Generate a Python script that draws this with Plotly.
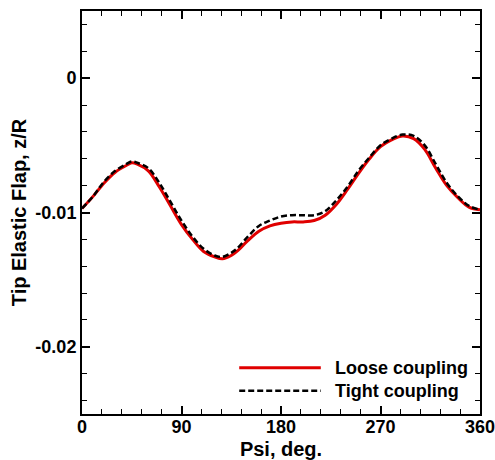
import plotly.graph_objects as go

psi = [0, 10, 20, 30, 40, 45, 50, 60, 70, 80, 90, 100, 110, 120, 127, 135, 140, 150, 160,
       170, 180, 190, 200, 210, 220, 230, 240, 250, 260, 270, 280, 290, 300, 310, 320,
       330, 340, 350, 360]
loose = [-0.0097, -0.0088, -0.0078, -0.0070, -0.0065, -0.0063, -0.0064, -0.0069, -0.0081,
         -0.0095, -0.0109, -0.0120, -0.0129, -0.0133, -0.01345, -0.0132, -0.0129, -0.0121,
         -0.0114, -0.0110, -0.0108, -0.0107, -0.0107, -0.0106, -0.0102, -0.0094, -0.0083,
         -0.0071, -0.0060, -0.0051, -0.0046, -0.0043, -0.0045, -0.0053, -0.0067, -0.0080,
         -0.0089, -0.0096, -0.0098]
tight = [-0.0097, -0.0088, -0.0077, -0.0069, -0.0064, -0.0062, -0.0063, -0.0067, -0.0078,
         -0.0092, -0.0106, -0.0118, -0.0127, -0.0132, -0.0133, -0.0130, -0.0127, -0.0118,
         -0.0110, -0.0106, -0.0103, -0.0102, -0.0102, -0.0102, -0.0099, -0.0091, -0.0081,
         -0.0069, -0.0059, -0.0050, -0.0045, -0.0042, -0.0043, -0.0050, -0.0064, -0.0078,
         -0.0088, -0.0095, -0.0098]
series_names = ["Loose coupling", "Tight coupling"]
x_ticks = [0, 90, 180, 270, 360]
y_ticks = [0, -0.01, -0.02]
y_tick_text = ["0", "-0.01", "-0.02"]

FONT = "Liberation Sans, Arial, sans-serif"

fig = go.Figure()
fig.add_trace(go.Scatter(x=psi, y=loose, mode="lines", name=series_names[0],
                         line=dict(color="#e00000", width=3, shape="spline", smoothing=1.0)))
fig.add_trace(go.Scatter(x=psi, y=tight, mode="lines", name=series_names[1],
                         line=dict(color="black", width=2.5, dash="6px,3px", shape="spline", smoothing=1.0)))

axis_common = dict(showline=True, linewidth=2, linecolor="black", mirror="allticks",
                   ticks="inside", ticklen=8, tickwidth=1.5, tickcolor="black",
                   showgrid=False, zeroline=False, ticklabeloverflow="allow",
                   tickfont=dict(family=FONT, size=18, color="black", weight="bold"))

fig.update_xaxes(range=[0, 360], tickvals=x_ticks, automargin=False, ticklabelstandoff=-5,
                 minor=dict(ticks="inside", ticklen=5, tickwidth=1, tickcolor="black", dtick=18, tick0=0),
                 title=dict(text="Psi, deg.",
                            font=dict(family=FONT, size=20, color="black", weight="bold")),
                 **axis_common)
fig.update_yaxes(range=[-0.025, 0.005], tickvals=y_ticks, ticktext=y_tick_text, automargin="left",
                 minor=dict(ticks="inside", ticklen=5, tickwidth=1, tickcolor="black", dtick=0.002, tick0=0),
                 title=dict(text="Tip Elastic Flap, z/R", standoff=3,
                            font=dict(family=FONT, size=20, color="black", weight="bold")),
                 **axis_common)

# manual legend (long line samples as in reference)
legend_items = [(series_names[0], dict(color="#e00000", width=3)),
                (series_names[1], dict(color="black", width=2.5, dash="6px,3px"))]
y0 = 0.115
for i, (name, ln) in enumerate(legend_items):
    yy = y0 - i * 0.057
    fig.add_shape(type="line", xref="paper", yref="paper", x0=0.395, x1=0.6, y0=yy, y1=yy, line=ln)
    fig.add_annotation(xref="paper", yref="paper", x=0.63, y=yy, text=name, showarrow=False,
                       xanchor="left", yanchor="middle",
                       font=dict(family=FONT, size=18, color="black", weight="bold"))

fig.update_layout(width=495, height=460, margin=dict(l=82, r=15, t=11, b=46),
                  plot_bgcolor="white", paper_bgcolor="white", showlegend=False,
                  font=dict(family=FONT, color="black"))

fig.write_html("out.html")
